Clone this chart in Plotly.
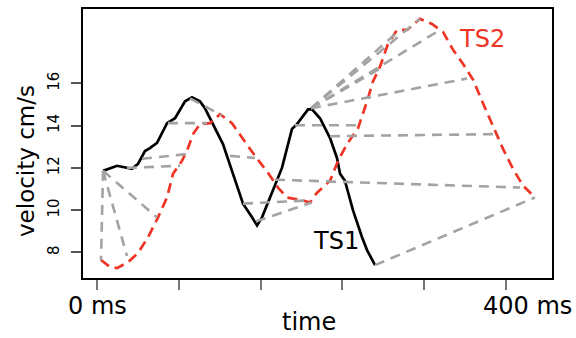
import plotly.graph_objects as go

# TS1 (black solid)
ts1_t = [5.9, 19.6, 34.2, 40.1, 46.9, 51.8, 58.7, 68.5, 76.3, 86.1, 92.9, 100.7, 105.6, 110.5,
         123.2, 133.0, 142.8, 151.6, 156.5, 161.4, 171.1, 180.9, 190.7, 195.6, 206.4, 210.3,
         218.1, 227.9, 234.7, 237.7, 242.5, 250.4, 259.2, 264.1, 271.9]
ts1_v = [11.86, 12.10, 11.96, 12.19, 12.80, 12.94, 13.18, 14.12, 14.35, 15.15, 15.34, 15.15, 14.82, 14.35,
         13.13, 11.72, 10.31, 9.66, 9.28, 9.66, 10.78, 12.00, 13.84, 14.07, 14.77, 14.77,
         14.35, 13.41, 12.47, 11.72, 11.39, 9.99, 8.72, 8.11, 7.40]

# TS2 (red dashed)
ts2_t = [3.9, 12.7, 19.6, 30.3, 40.1, 49.9, 59.7, 68.5, 74.3, 83.1, 89.0, 93.9, 100.7, 110.5, 120.3,
         132.0, 142.8, 154.5, 167.2, 177.0, 185.8, 201.5, 208.3, 215.2, 227.9, 235.7, 244.5, 255.3,
         264.1, 269.9, 276.8, 284.6, 293.4, 303.2, 315.9, 327.6, 338.4, 348.2, 357.9, 367.7, 377.5,
         387.3, 397.1, 406.8, 416.6, 428.4]
ts2_v = [7.64, 7.31, 7.26, 7.54, 7.97, 8.72, 9.66, 10.60, 11.72, 12.33, 12.94, 13.60, 14.07, 14.12, 14.54,
         14.12, 13.37, 12.57, 11.77, 11.07, 10.60, 10.46, 10.36, 10.83, 11.39, 12.33, 13.13, 13.88,
         15.15, 16.09, 16.79, 17.87, 18.53, 18.53, 19.05, 18.81, 18.44, 17.59, 16.93, 16.18, 15.06,
         13.98, 12.90, 11.96, 11.16, 10.60]

# Alignment (warping) links: TS1 point -> TS2 point
link_t1 = [5.9, 5.9, 5.9, 29.3, 44.0, 69.4, 91.0, 130.1, 142.8, 155.5, 174.1, 193.6,
           209.3, 209.3, 209.3, 209.3, 209.3, 227.9, 271.9]
link_v1 = [11.86, 11.86, 11.86, 12.00, 12.43, 14.12, 15.29, 12.57, 10.31, 9.47, 11.44, 14.02,
           14.82, 14.82, 14.82, 14.82, 14.82, 13.50, 7.40]
link_t2 = [3.9, 29.3, 58.7, 81.2, 88.0, 107.6, 122.2, 154.5, 206.4, 210.0, 413.7, 257.2,
           278.7, 296.3, 315.9, 335.5, 361.9, 391.2, 428.4]
link_v2 = [7.64, 7.83, 9.66, 12.10, 12.66, 14.12, 14.49, 12.47, 10.46, 10.36, 11.07, 14.02,
           16.75, 18.53, 19.05, 18.53, 16.23, 13.60, 10.60]

x_ticks = [0, 80, 160, 240, 320, 400]
y_ticks = [8, 10, 12, 14, 16]

FONT = "DejaVu Sans"

fig = go.Figure()

fig.add_trace(go.Scatter(x=ts1_t, y=ts1_v, mode="lines",
                         line=dict(color="black", width=2.7), showlegend=False))
fig.add_trace(go.Scatter(x=ts2_t, y=ts2_v, mode="lines",
                         line=dict(color="#EE3424", width=2.7, dash="10px,6px"), showlegend=False))

lx, ly = [], []
for a, b, c, d in zip(link_t1, link_v1, link_t2, link_v2):
    lx += [a, c, None]
    ly += [b, d, None]
fig.add_trace(go.Scatter(x=lx, y=ly, mode="lines",
                         line=dict(color="#A3A3A3", width=2.6, dash="10px,7px"), showlegend=False))

fig.update_layout(
    width=576, height=338,
    margin=dict(l=83, r=24, t=7, b=60),
    paper_bgcolor="white", plot_bgcolor="white",
    font=dict(family=FONT, color="black"),
    xaxis=dict(range=[-13.7, 445], tickvals=x_ticks, showticklabels=False,
               ticks="outside", ticklen=10, tickwidth=1.5, tickcolor="#777777",
               showgrid=False, zeroline=False,
               showline=True, linecolor="black", linewidth=2, mirror=True),
    yaxis=dict(range=[6.79, 19.52], tickvals=y_ticks, tickangle=-90,
               tickfont=dict(size=15, family=FONT, color="black"),
               ticklabelstandoff=6,
               ticks="outside", ticklen=10, tickwidth=1.5, tickcolor="#555555",
               showgrid=False, zeroline=False,
               showline=True, linecolor="black", linewidth=2, mirror=True),
)

ann = [
    dict(text="velocity cm/s", x=-0.1215, y=0.435, xref="paper", yref="paper", textangle=-90,
         font=dict(size=23)),
    dict(text="time", x=0.482, y=-0.162, xref="paper", yref="paper", font=dict(size=24)),
    dict(text="0 ms", x=0, y=-0.103, xref="x", yref="paper", font=dict(size=24)),
    dict(text="400 ms", x=400, xshift=22, y=-0.103, xref="x", yref="paper", font=dict(size=24)),
    dict(text="TS1", x=233.7, y=8.53, xref="x", yref="y", font=dict(size=24, color="black")),
    dict(text="TS2", x=376.5, y=18.11, xref="x", yref="y", font=dict(size=24, color="#EE3424")),
]
for a in ann:
    fig.add_annotation(showarrow=False, xanchor="center", yanchor="middle", **a)

fig.write_html("out.html")
